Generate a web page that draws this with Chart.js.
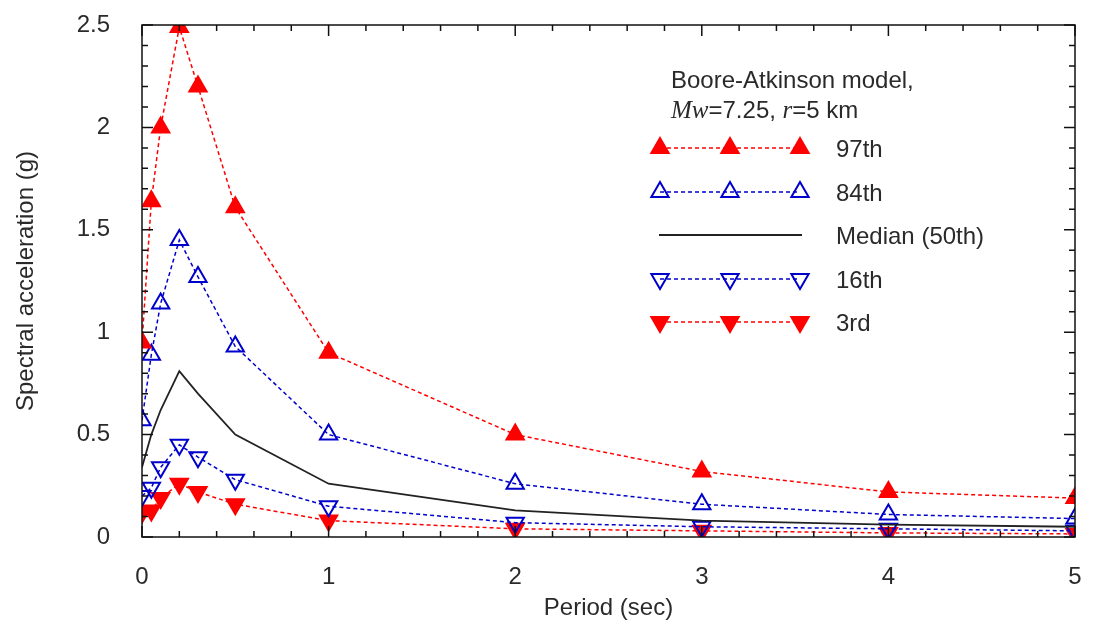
<!DOCTYPE html>
<html>
<head>
<meta charset="utf-8">
<script src="https://cdn.jsdelivr.net/npm/chart.js@4.4.1/dist/chart.umd.min.js"></script>
<style>
  html,body{margin:0;padding:0;background:#fff;}
  #wrap{width:1101px;height:627px;position:relative;}
</style>
</head>
<body>
<div id="wrap"><canvas id="c"></canvas></div>
<script>
  /* ====== DATA ====== */
  const periods = [0, 0.05, 0.1, 0.2, 0.3, 0.5, 1, 2, 3, 4, 5];
  const p97    = [0.95, 1.64, 2.00, 2.49, 2.20, 1.61, 0.90, 0.50, 0.32, 0.22, 0.19];
  const p84    = [0.57, 0.89, 1.14, 1.45, 1.27, 0.93, 0.50, 0.26, 0.16, 0.11, 0.09];
  const median = [0.34, 0.50, 0.62, 0.81, 0.70, 0.50, 0.26, 0.13, 0.08, 0.06, 0.05];
  const p16    = [0.20, 0.24, 0.34, 0.45, 0.39, 0.28, 0.15, 0.07, 0.05, 0.04, 0.03];
  const p03    = [0.12, 0.13, 0.19, 0.26, 0.22, 0.16, 0.08, 0.04, 0.03, 0.02, 0.015];
  const yTicks = [0, 0.5, 1, 1.5, 2, 2.5];
  const xTicks = [0, 1, 2, 3, 4, 5];
  const legendRows = ['97th', '84th', 'Median (50th)', '16th', '3rd'];

  const RED = '#ff0000', BLUE = '#0000cc', TXT = '#2a2a2a';
  const FONT = '"Liberation Sans", Arial, sans-serif';
  const pts = arr => periods.map((x,i)=>({x, y:arr[i]}));

  const ds = (label, data, color, opts)=> Object.assign({
    label, data: pts(data), borderColor: color, backgroundColor: color,
    borderWidth: 1.5, borderDash: [4,3], pointRadius: 10, pointHoverRadius: 10,
    pointStyle: 'triangle', pointBorderWidth: 2, tension: 0
  }, opts);

  const datasets = [
    ds('97th', p97, RED, {pointBackgroundColor: RED}),
    ds('84th', p84, BLUE, {pointBackgroundColor: 'rgba(0,0,0,0)'}),
    ds('Median (50th)', median, '#222', {borderDash: [], pointRadius: 0, borderWidth: 1.8}),
    ds('16th', p16, BLUE, {pointBackgroundColor: 'rgba(0,0,0,0)', pointRotation: 180}),
    ds('3rd', p03, RED, {pointBackgroundColor: RED, pointRotation: 180})
  ];

  /* ====== inward ticks + frame ====== */
  const frame = {
    id: 'frame',
    afterDatasetsDraw(chart){
      const {ctx, chartArea:a, scales:{x, y}} = chart;
      ctx.save();
      ctx.strokeStyle = '#111'; ctx.lineWidth = 1.5;
      ctx.strokeRect(a.left, a.top, a.right-a.left, a.bottom-a.top);
      ctx.beginPath();
      for(let i=0;i<=25;i++){
        const v = i/10, py = y.getPixelForValue(v), len = (i%5===0)?11:6;
        ctx.moveTo(a.left, py); ctx.lineTo(a.left+len, py);
        ctx.moveTo(a.right, py); ctx.lineTo(a.right-len, py);
      }
      for(let i=0;i<=25;i++){
        const v = i/5, px = x.getPixelForValue(v), len = (i%5===0)?11:6;
        ctx.moveTo(px, a.bottom); ctx.lineTo(px, a.bottom-len);
        ctx.moveTo(px, a.top); ctx.lineTo(px, a.top+len);
      }
      ctx.stroke();
      ctx.restore();
    }
  };

  /* ====== legend box ====== */
  const legendBox = {
    id: 'legendBox',
    afterDraw(chart){
      const ctx = chart.ctx;
      ctx.save();
      ctx.fillStyle = TXT; ctx.textBaseline = 'alphabetic'; ctx.textAlign = 'left';
      ctx.font = `24px ${FONT}`;
      ctx.fillText('Boore-Atkinson model,', 671, 88);
      let xx = 671;
      const seg = (t, f)=>{ ctx.font = f; ctx.fillText(t, xx, 118); xx += ctx.measureText(t).width; };
      seg('Mw', `italic 25px "Liberation Serif", serif`);
      seg('=7.25, ', `24px ${FONT}`);
      seg('r', `italic 25px "Liberation Serif", serif`);
      seg('=5 km', `24px ${FONT}`);

      const rowsY = [148, 192, 235, 279, 322];
      const mx = [660, 730, 800];
      chart.data.datasets.forEach((d, i)=>{
        const yy = rowsY[i];
        ctx.strokeStyle = d.borderColor; ctx.lineWidth = d.borderWidth;
        ctx.setLineDash(d.borderDash || []);
        ctx.beginPath();
        if(d.pointRadius){ ctx.moveTo(mx[0], yy); ctx.lineTo(mx[2], yy); }
        else { ctx.moveTo(659, yy); ctx.lineTo(802, yy); }
        ctx.stroke();
        ctx.setLineDash([]);
        if(d.pointRadius){
          mx.forEach(px=>{
            ctx.fillStyle = d.pointBackgroundColor;
            ctx.strokeStyle = d.borderColor; ctx.lineWidth = d.pointBorderWidth;
            Chart.helpers.drawPoint(ctx, {pointStyle:'triangle', radius:d.pointRadius,
              rotation:d.pointRotation||0, borderWidth:d.pointBorderWidth}, px, yy);
          });
        }
        ctx.fillStyle = TXT; ctx.font = `24px ${FONT}`;
        ctx.fillText(legendRows[i], 836, yy + 9);
      });
      ctx.restore();
    }
  };

  new Chart(document.getElementById('c'), {
    type: 'line',
    data: { datasets },
    options: {
      responsive: true, maintainAspectRatio: false, animation: false,
      layout: { padding: { top: 25, right: 26, left: 0, bottom: 0 } },
      plugins: { legend: {display:false}, tooltip: {enabled:false} },
      scales: {
        x: {
          type: 'linear', min: 0, max: 5,
          grid: { display: false }, border: { display: false },
          afterBuildTicks: s => { s.ticks = xTicks.map(v=>({value:v})); },
          afterFit: s => { s.height = 90; s.paddingLeft = 0; s.paddingRight = 0; },
          ticks: { color: TXT, font: { family: FONT, size: 24 }, padding: 18, callback: v => String(v) },
          title: { display: true, text: 'Period (sec)', color: TXT, font: { family: FONT, size: 24 }, padding: { top: 0 } }
        },
        y: {
          min: 0, max: 2.5,
          grid: { display: false }, border: { display: false },
          afterBuildTicks: s => { s.ticks = yTicks.map(v=>({value:v})); },
          afterFit: s => { s.width = 142; s.paddingTop = 0; s.paddingBottom = 0; },
          ticks: { color: TXT, font: { family: FONT, size: 24 }, padding: 24, callback: v => String(v) },
          title: { display: true, text: 'Spectral acceleration (g)', color: TXT, font: { family: FONT, size: 24 }, padding: { top: 12, bottom: 0 } }
        }
      }
    },
    plugins: [frame, legendBox]
  });
</script>
</body>
</html>
